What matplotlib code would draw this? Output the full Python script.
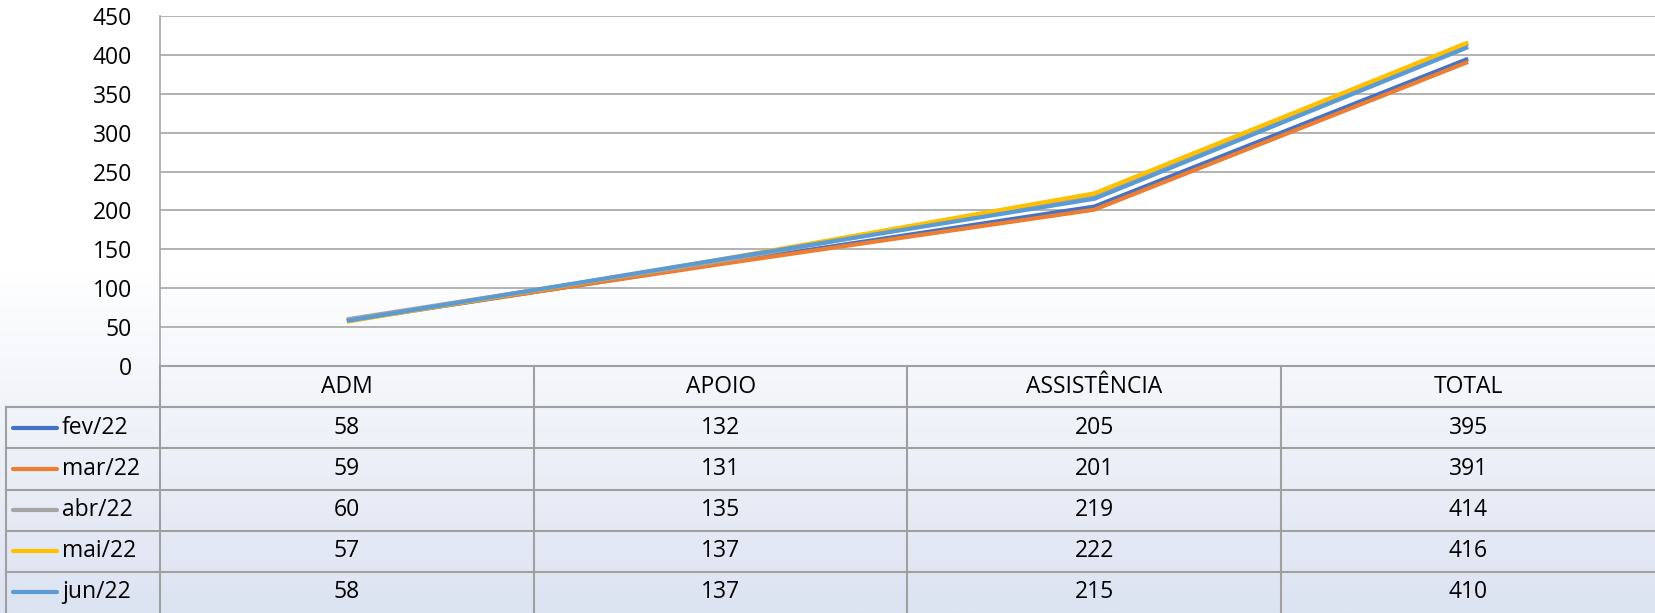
import numpy as np
import matplotlib.pyplot as plt
from matplotlib.colors import LinearSegmentedColormap

plt.rcParams['font.family'] = ['Open Sans', 'DejaVu Sans']

categories = ['ADM', 'APOIO', 'ASSISTÊNCIA', 'TOTAL']
months = ['fev/22', 'mar/22', 'abr/22', 'mai/22', 'jun/22']
fev = [58, 132, 205, 395]
mar = [59, 131, 201, 391]
abr = [60, 135, 219, 414]
mai = [57, 137, 222, 416]
jun = [58, 137, 215, 410]
series = [fev, mar, abr, mai, jun]
colors = ['#4472c4', '#ed7d31', '#a5a5a5', '#ffc000', '#5b9bd5']

W, H = 1655, 613
fig = plt.figure(figsize=(W / 100, H / 100), dpi=100)

# background gradient (white top -> light blue bottom)
bg = fig.add_axes([0, 0, 1, 1], zorder=-10)
grad = np.linspace(0, 1, 300)
grad = np.clip(grad / 0.56, 0, 1)[:, None]
cmap = LinearSegmentedColormap.from_list('bg', ['#dce3f1', '#ffffff'])
bg.imshow(grad, aspect='auto', cmap=cmap, extent=[0, 1, 0, 1], origin='lower')
bg.axis('off')

grid_col = '#a6a6a6'

# main line chart
ax = fig.add_axes([160 / W, (H - 366) / H, (W - 160) / W, 350 / H])
ax.patch.set_alpha(0)
x = np.arange(len(categories)) + 0.5
for vals, c, m in zip(series, colors, months):
    ax.plot(x, vals, color=c, lw=3.0, label=m, solid_capstyle='butt')
ax.set_xlim(0, 4)
ax.set_ylim(0, 450)
ax.set_yticks(range(0, 451, 50))
ax.yaxis.grid(True, color=grid_col, lw=1.2)
ax.set_axisbelow(True)
ax.set_xticks([])
ax.tick_params(axis='y', length=0, labelsize=16.5, pad=20)
for s in ['top', 'right', 'bottom']:
    ax.spines[s].set_visible(False)
ax.spines['left'].set_color(grid_col)
ax.spines['left'].set_linewidth(1.2)

# data table below
tx0 = -(160 - 6) / 374
tab = fig.add_axes([6 / W, 0, (W - 6) / W, 247 / H])
tab.patch.set_alpha(0)
tab.set_xlim(tx0, 4)
tab.set_ylim(6, 0)
tab.axis('off')
lc = '#a0a0a0'
tab.plot([0, 4], [0, 0], color=lc, lw=1.5, clip_on=False)
for r in range(1, 6):
    tab.plot([tx0, 4], [r, r], color=lc, lw=1.5, clip_on=False)
for cx in range(0, 4):
    tab.plot([cx, cx], [0, 6], color=lc, lw=1.5, clip_on=False)
tab.plot([tx0, tx0], [1, 6], color=lc, lw=1.5, clip_on=False)

fs = 16.5
for i, cat in enumerate(categories):
    tab.text(i + 0.5, 0.5, cat, ha='center', va='center', fontsize=fs)
kx0 = tx0 + 7 / 374
kx1 = tx0 + 51 / 374
for r, (vals, c, m) in enumerate(zip(series, colors, months), start=1):
    tab.plot([kx0, kx1], [r + 0.5, r + 0.5], color=c, lw=3, solid_capstyle='round')
    tab.text(kx1 + 5 / 374, r + 0.5, m, ha='left', va='center', fontsize=fs)
    for i, v in enumerate(vals):
        tab.text(i + 0.5, r + 0.5, str(v), ha='center', va='center', fontsize=fs)

fig.savefig('out.png', dpi=100)
